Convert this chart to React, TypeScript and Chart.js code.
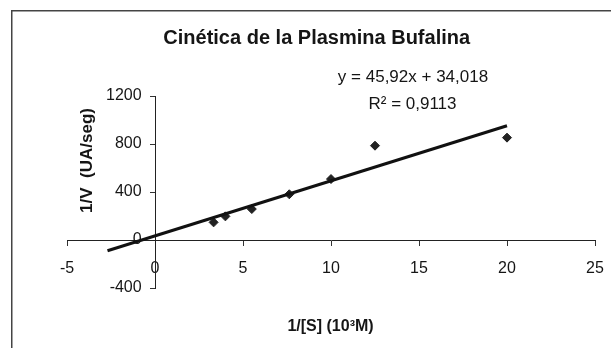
import React, { useEffect, useRef } from "react";
import { Chart, registerables } from "chart.js";

Chart.register(...registerables);

const pointsX = [3.33, 4, 5.5, 7.63, 10, 12.5, 20];
const pointsY = [147, 197, 258, 381, 508, 786, 853];
const trendX = [-2.7, 20];
const trendY = [-90, 952];
const titleText = "Cinética de la Plasmina Bufalina";
const equationText = "y = 45,92x + 34,018";
const r2Text = "R² = 0,9113";
const xTitle = "1/[S] (10³M)";
const yTitle = "1/V  (UA/seg)";

const FONT = "'Liberation Sans', Arial, sans-serif";

const zeroPadding = (s: any) => {
  s.paddingLeft = 0;
  s.paddingRight = 0;
  s.paddingTop = 0;
  s.paddingBottom = 0;
};

const textPlugin = {
  id: "textPlugin",
  beforeDraw(chart: any) {
    const ctx = chart.ctx;
    ctx.save();
    ctx.fillStyle = "#ffffff";
    ctx.fillRect(0, 0, chart.width, chart.height);
    ctx.strokeStyle = "#444444";
    ctx.lineWidth = 1.5;
    ctx.beginPath();
    ctx.moveTo(11.75, chart.height + 2);
    ctx.lineTo(11.75, 10.75);
    ctx.lineTo(chart.width + 2, 10.75);
    ctx.stroke();
    ctx.restore();
  },
  afterDraw(chart: any) {
    const ctx = chart.ctx;
    ctx.save();
    ctx.fillStyle = "#151515";
    ctx.textAlign = "center";
    ctx.textBaseline = "middle";
    ctx.font = `bold 20px ${FONT}`;
    ctx.fillText(titleText, 316.7, 38);
    ctx.font = `17px ${FONT}`;
    ctx.fillText(equationText, 413, 77);
    ctx.fillText(r2Text, 412.5, 104);
    ctx.font = `bold 16px ${FONT}`;
    ctx.fillText(xTitle, 330.5, 327);
    ctx.translate(87.5, 160.5);
    ctx.rotate(-Math.PI / 2);
    ctx.font = `bold 17px ${FONT}`;
    ctx.fillText(yTitle, 0, 0);
    ctx.restore();
  },
};

export default function App() {
  const ref = useRef<HTMLCanvasElement>(null);
  useEffect(() => {
    if (!ref.current) return;
    const chart = new Chart(ref.current, {
      type: "scatter",
      data: {
        datasets: [
          {
            type: "line",
            label: "Tendencia",
            data: trendX.map((x, i) => ({ x, y: trendY[i] })),
            borderColor: "#111111",
            borderWidth: 3,
            pointRadius: 0,
            fill: false,
          } as any,
          {
            label: "Datos",
            data: pointsX.map((x, i) => ({ x, y: pointsY[i] })),
            pointStyle: "rectRot",
            pointRadius: 4.5,
            backgroundColor: "#222222",
            borderColor: "#222222",
            borderWidth: 1,
          },
        ],
      },
      options: {
        animation: false,
        responsive: false,
        maintainAspectRatio: false,
        layout: { padding: { left: 67, right: 16, top: 96, bottom: 60 } },
        plugins: {
          legend: { display: false },
          title: { display: false },
          tooltip: { enabled: false },
        },
        scales: {
          x: {
            type: "linear",
            min: -5,
            max: 25,
            position: { y: 0 } as any,
            afterFit: zeroPadding,
            ticks: {
              stepSize: 5,
              color: "#151515",
              font: { family: FONT, size: 16 },
              padding: 14,
              maxRotation: 0,
              callback: (v: any) => String(v),
            },
            grid: {
              drawOnChartArea: false,
              drawTicks: true,
              tickLength: 5,
              color: "#333333",
            },
            border: { display: true, color: "#222222", width: 1 },
          },
          y: {
            type: "linear",
            min: -400,
            max: 1200,
            position: { x: 0 } as any,
            afterFit: zeroPadding,
            ticks: {
              stepSize: 400,
              color: "#151515",
              font: { family: FONT, size: 16 },
              padding: 8,
              callback: (v: any) => String(v) + "   ",
            },
            grid: {
              drawOnChartArea: false,
              drawTicks: true,
              tickLength: 5,
              color: "#333333",
            },
            border: { display: true, color: "#222222", width: 1 },
          },
        },
      } as any,
      plugins: [textPlugin],
    });
    return () => chart.destroy();
  }, []);
  return (
    <div style={{ position: "absolute", left: 0, top: 0, width: 611, height: 348 }}>
      <canvas ref={ref} width={611} height={348} style={{ display: "block" }} />
    </div>
  );
}
